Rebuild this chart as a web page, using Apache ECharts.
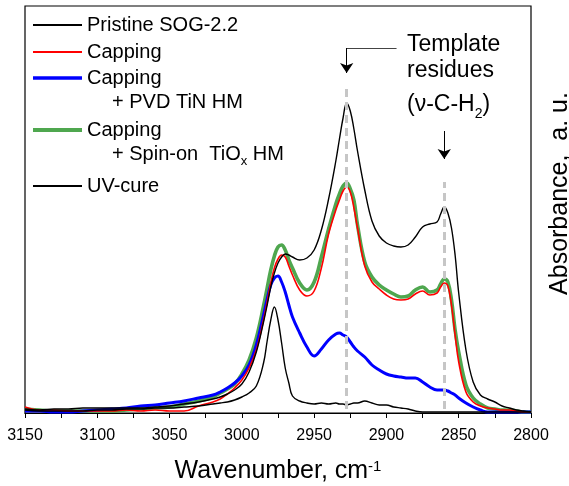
<!DOCTYPE html>
<html>
<head>
<meta charset="utf-8">
<script src="https://cdn.jsdelivr.net/npm/echarts@6/dist/echarts.min.js"></script>
<style>
  html, body { margin: 0; padding: 0; background: #ffffff; }
  #chart { width: 569px; height: 486px; }
</style>
</head>
<body>
<div id="chart"></div>
<script>
// FTIR C-H stretching region, absorbance in arbitrary units
const wavenumber = [3150, 3140, 3130, 3120, 3110, 3100, 3090, 3080, 3070, 3060, 3050, 3040, 3030, 3020,
  3015, 3010, 3005, 3000, 2995, 2990, 2985,
  2982.5, 2980, 2977.5, 2975, 2972.5, 2970, 2967.5, 2965,
  2960, 2955, 2950, 2945, 2940, 2935,
  2932.5, 2930, 2927.5, 2925, 2922.5, 2920,
  2915, 2910, 2905, 2900, 2895, 2890, 2885, 2880, 2875, 2870, 2865,
  2862.5, 2860, 2857.5, 2855, 2852.5, 2850,
  2845, 2840, 2835, 2830, 2825, 2820, 2815, 2810, 2805, 2800];

const pristine = [4, 3, 4, 4, 5, 5, 5, 5, 5, 6, 7, 9, 11, 14,
  16, 19, 23, 29, 41, 61, 91,
  108, 126, 140, 150, 156, 159, 158, 156,
  153, 155, 163, 183, 214, 252,
  274, 295, 310, 302, 284, 262,
  223, 192, 177, 170, 167, 166, 168, 176, 186, 189, 191,
  199, 206, 200, 185, 158, 120,
  63, 31, 18, 14, 11, 7, 5, 3, 2, 1];

const capping = [6, 3, 3, 2, 2, 2, 2, 3, 2, 3, 2, 2, 7, 11,
  14, 19, 25, 33, 45, 63, 93,
  111, 130, 145, 154, 158, 156, 147, 138,
  123, 117, 122, 145, 179, 203,
  213, 222, 226, 221, 205, 185,
  147, 131, 124, 118, 114, 113, 114, 119, 122, 118, 120,
  126, 130, 127, 108, 78, 51,
  21, 11, 7, 5, 4, 3, 3, 2, 1, 1];

const cappingTiN = [2, 2, 1, 1, 2, 3, 4, 5, 7, 8, 10, 12, 15, 18,
  21, 25, 30, 37, 48, 68, 98,
  114, 128, 135, 137, 131, 121, 108, 96,
  80, 66, 57, 64, 73, 79,
  80, 78, 76, 71, 66, 62,
  56, 48, 43, 39, 37, 36, 35, 35, 31, 26, 23,
  23, 23, 22, 20, 18, 15,
  10, 6, 3, 1, 1, 1, 1, 1, 1, 1];

const cappingTiOx = [4, 3, 2, 2, 2, 2, 2, 3, 4, 5, 6, 9, 12, 16,
  20, 24, 29, 39, 53, 75, 107,
  125, 143, 157, 166, 168, 163, 153, 145,
  130, 123, 131, 156, 184, 209,
  219, 227, 230, 224, 213, 188,
  151, 136, 128, 123, 119, 116, 117, 123, 126, 121, 123,
  129, 134, 131, 113, 83, 61,
  28, 15, 9, 5, 4, 3, 3, 2, 1, 1];

const uvCure = [3, 2, 2, 2, 2, 3, 3, 4, 4, 5, 5, 6, 7, 9,
  10, 11, 13, 16, 20, 27, 50,
  72, 93, 106, 93, 70, 45, 30, 17,
  12, 10, 9, 10, 9, 10,
  9, 9, 8, 9, 10, 10,
  12, 10, 8, 8, 6, 5, 4, 2, 1, 1, 1,
  1, 1, 1, 1, 1, 1,
  1, 1, 1, 1, 1, 1, 1, 1, 1, 1];

// x axis range and tick step (cm-1), y range (a.u.)
const xRange = [2800, 3150];
const xStep = 50;
const yRange = [0, 407];

// CH2 template-residue bands: position and vertical extent of the guide lines
const bandGuides = [
  { wn: 2927.5, from: 4, to: 326 },
  { wn: 2860, from: 4, to: 231 }
];
// pointer from the caption to each band
const captionLeader = [[2893, 365], [2927.5, 365]];
const bandArrows = [
  [[2927.5, 365], [2927.5, 340]],
  [[2860, 282], [2860, 254]]
];

const FONT = '"Liberation Sans", Arial, Helvetica, sans-serif';

function pairs(ys) {
  return wavenumber.map((x, i) => [x, ys[i]]);
}

const seriesStyle = {
  'Pristine SOG-2.2': { color: '#000000', width: 1.4, legendTop: 25, iconH: 2 },
  'Capping': { color: '#ff0000', width: 1.6, legendTop: 52, iconH: 2 },
  'Capping + PVD TiN HM': { color: '#0000ff', width: 3, legendTop: 78, iconH: 3.5 },
  'Capping + Spin-on TiOx HM': { color: '#4fa74f', width: 3.6, legendTop: 130, iconH: 4 },
  'UV-cure': { color: '#000000', width: 1.4, legendTop: 186, iconH: 2 }
};

const seriesData = [
  ['Capping + Spin-on TiOx HM', cappingTiOx],
  ['Capping + PVD TiN HM', cappingTiN],
  ['Capping', capping],
  ['Pristine SOG-2.2', pristine],
  ['UV-cure', uvCure]
];

const lineSeries = seriesData.map(([name, ys]) => ({
  name: name,
  type: 'line',
  data: pairs(ys),
  symbol: 'none',
  showSymbol: false,
  smooth: 0.4,
  lineStyle: { color: seriesStyle[name].color, width: seriesStyle[name].width },
  itemStyle: { color: seriesStyle[name].color },
  z: 3,
  silent: true
}));

const legends = Object.keys(seriesStyle).map(name => ({
  data: [name],
  orient: 'vertical',
  left: 33,
  top: seriesStyle[name].legendTop - 12,
  padding: 0,
  itemWidth: 49,
  itemHeight: seriesStyle[name].iconH,
  icon: 'rect',
  selectedMode: false,
  formatter: n => n.split(' + ')[0],
  textStyle: { fontSize: 20, lineHeight: 24, color: '#000', fontFamily: FONT }
}));

const option = {
  animation: false,
  backgroundColor: '#ffffff',
  textStyle: { fontFamily: FONT, color: '#000' },
  grid: {
    left: 25, right: 38, top: 6, bottom: 73,
    outerBoundsMode: 'none',
    containLabel: false,
    show: true, borderColor: '#000', borderWidth: 1.2, backgroundColor: 'transparent'
  },
  legend: legends,
  xAxis: {
    type: 'value',
    min: xRange[0], max: xRange[1], interval: xStep,
    inverse: true,
    axisLine: { show: true, lineStyle: { color: '#000', width: 1.2 } },
    axisTick: { show: true, inside: false, length: 5, lineStyle: { color: '#000', width: 1 } },
    minorTick: { show: true, splitNumber: 2, length: 5, lineStyle: { color: '#000', width: 1 } },
    splitLine: { show: false },
    minorSplitLine: { show: false },
    axisLabel: {
      fontSize: 16, color: '#000', margin: 15, fontFamily: FONT,
      formatter: v => String(v)
    },
    name: 'Wavenumber, cm{sup|-1}',
    nameLocation: 'middle',
    nameGap: 46,
    nameTextStyle: {
      fontSize: 25, color: '#000', fontFamily: FONT,
      rich: { sup: { fontSize: 15, verticalAlign: 'top', color: '#000', fontFamily: FONT } }
    }
  },
  yAxis: {
    type: 'value',
    position: 'right',
    min: yRange[0], max: yRange[1],
    axisLine: { show: false },
    axisTick: { show: false },
    axisLabel: { show: false },
    splitLine: { show: false },
    name: 'Absorbance,  a. u.',
    nameLocation: 'middle',
    nameRotate: 90,
    nameGap: 17,
    nameTextStyle: { fontSize: 25, color: '#000', fontFamily: FONT, padding: [0, 0, 0, 32] }
  },
  series: [
    {
      name: 'guides',
      type: 'line',
      data: [],
      z: 1,
      silent: true,
      markLine: {
        silent: true,
        symbol: ['none', 'none'],
        label: { show: false },
        lineStyle: { color: '#c6c6c6', width: 3, type: [8, 5] },
        data: bandGuides.map(g => [{ coord: [g.wn, g.from] }, { coord: [g.wn, g.to] }])
      }
    },
    {
      name: 'leader',
      type: 'lines',
      coordinateSystem: 'cartesian2d',
      silent: true,
      z: 4,
      symbol: ['none', 'none'],
      lineStyle: { color: '#444', width: 1, opacity: 1 },
      data: [{ coords: captionLeader }]
    },
    {
      name: 'arrows',
      type: 'lines',
      coordinateSystem: 'cartesian2d',
      silent: true,
      z: 4,
      symbol: ['none', 'arrow'],
      symbolSize: [8, 10],
      lineStyle: { color: '#000', width: 1, opacity: 1 },
      data: bandArrows.map(c => ({ coords: c }))
    },
    ...lineSeries
  ],
  graphic: [
    {
      type: 'text', left: 112, top: 92, silent: true,
      style: { text: '+ PVD TiN HM', fontSize: 20, fill: '#000', fontFamily: FONT }
    },
    {
      type: 'text', left: 112, top: 144, silent: true,
      style: {
        text: '+ Spin-on  TiO{sub|x} HM', fontSize: 20, fill: '#000', fontFamily: FONT,
        rich: { sub: { fontSize: 13, verticalAlign: 'bottom', fontFamily: FONT, padding: [0, 0, -4, 0] } }
      }
    },
    {
      type: 'text', left: 407, top: 33, silent: true,
      style: { text: 'Template', fontSize: 23, fill: '#000', fontFamily: FONT }
    },
    {
      type: 'text', left: 407, top: 59, silent: true,
      style: { text: 'residues', fontSize: 23, fill: '#000', fontFamily: FONT }
    },
    {
      type: 'text', left: 407, top: 93, silent: true,
      style: {
        text: '(\u03bd-C-H{sub|2})', fontSize: 23, fill: '#000', fontFamily: FONT,
        rich: { sub: { fontSize: 14, verticalAlign: 'bottom', fontFamily: FONT, padding: [0, 0, -5, 0] } }
      }
    }
  ]
};

const chart = echarts.init(document.getElementById('chart'), null, { renderer: 'canvas' });
chart.setOption(option);
</script>
</body>
</html>
